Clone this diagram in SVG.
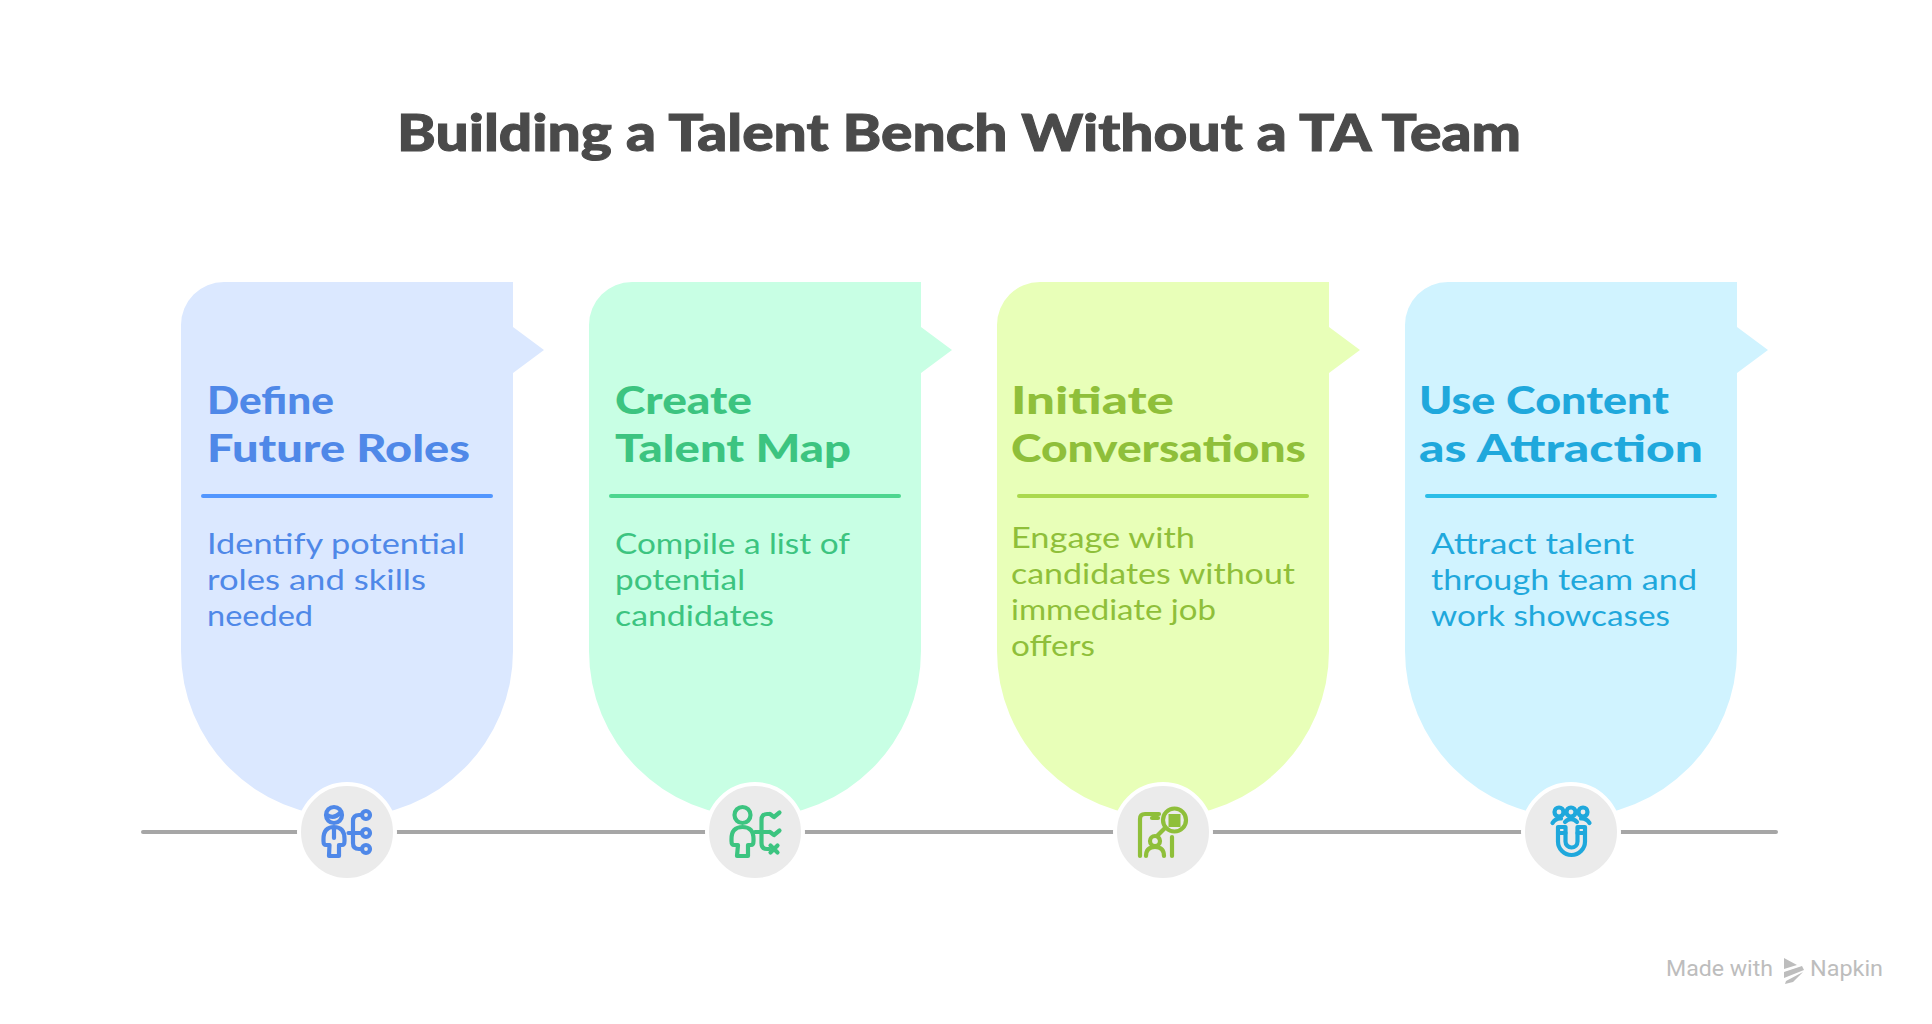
<svg xmlns="http://www.w3.org/2000/svg" width="1932" height="1024" viewBox="0 0 1932 1024">
<style>
text{font-family:"Lato","Liberation Sans",sans-serif}
.title{font-size:52px;font-weight:900;fill:#4a4a4a;stroke:#4a4a4a;stroke-width:1}
.head{font-size:38px;font-weight:900}
.body{font-size:29px;font-weight:400}
.div{stroke-width:4;stroke-linecap:round}
.ring{fill:#ebebeb;stroke:#fff;stroke-width:4}
.ic{fill:none;stroke-width:4.2;stroke-linecap:round;stroke-linejoin:round}
.mark{font-size:22px;fill:#bdbdbd;font-family:Roboto,"Liberation Sans",sans-serif}
.blue{fill:#4f88e8}.green{fill:#3cc480}.lime{fill:#8fbf3a}.cyan{fill:#1fa8dc}
</style>
<defs>
<path id="card" d="M43 0H332V45L363 68L332 91V369A166 166 0 0 1 0 369V43A43 43 0 0 1 43 0Z"/>
</defs>
<rect width="1932" height="1024" fill="#fff"/>
<text id="title" class="title" x="397" y="151" textLength="1124" lengthAdjust="spacingAndGlyphs">Building a Talent Bench Without a TA Team</text>
<g id="connectors">
<path d="M143 832H1776" stroke="#a6a6a6" stroke-width="4" stroke-linecap="round" fill="none"/>
</g>
<g id="node-1">
<use href="#card" x="181" y="282" fill="#dbe8ff"/>
<text class="head blue" x="207" y="414" textLength="127" lengthAdjust="spacingAndGlyphs">Define</text>
<text class="head blue" x="207" y="462" textLength="263" lengthAdjust="spacingAndGlyphs">Future Roles</text>
<path class="div" d="M203 496H491" stroke="#5296ff"/>
<text class="body blue" x="207" y="554" textLength="258" lengthAdjust="spacingAndGlyphs">Identify potential</text>
<text class="body blue" x="207" y="590" textLength="219" lengthAdjust="spacingAndGlyphs">roles and skills</text>
<text class="body blue" x="207" y="626" textLength="106" lengthAdjust="spacingAndGlyphs">needed</text>
<g transform="translate(347 832)">
<circle class="ring" r="48"/>
<g class="ic" stroke="#4f88e8">
<circle cx="-13" cy="-17" r="8"/>
<path d="M-20 -17Q-13 -12 -6 -20"/>
<path d="M-17.500 13H-21Q-23.500 13-23.500 9V7Q-23.500-5-13-5Q-2.500-5-2.500 7V9Q-2.500 13-5 13H-8V24H-18Z"/>
<path d="M-13 -4V6"/>
<path d="M1.500 1H15M15 -17H12Q6 -17 6 -11V11Q6 17 12 17H15"/>
<circle cx="19" cy="-17" r="4"/><circle cx="19" cy="1" r="4"/><circle cx="19" cy="17" r="4"/>
</g>
</g>
</g>
<g id="node-2">
<use href="#card" x="589" y="282" fill="#c8ffe4"/>
<text class="head green" x="615" y="414" textLength="137" lengthAdjust="spacingAndGlyphs">Create</text>
<text class="head green" x="615" y="462" textLength="236" lengthAdjust="spacingAndGlyphs">Talent Map</text>
<path class="div" d="M611 496H899" stroke="#4dd68f"/>
<text class="body green" x="615" y="554" textLength="235" lengthAdjust="spacingAndGlyphs">Compile a list of</text>
<text class="body green" x="615" y="590" textLength="130" lengthAdjust="spacingAndGlyphs">potential</text>
<text class="body green" x="615" y="626" textLength="159" lengthAdjust="spacingAndGlyphs">candidates</text>
<g transform="translate(755 832)">
<circle class="ring" r="48"/>
<g class="ic" stroke="#3cc480">
<circle cx="-12.500" cy="-17" r="8"/>
<path d="M-17 13H-21Q-23.500 13-23.500 9V7Q-23.500-5-12.500-5Q-1.500-5-1.500 7V9Q-1.500 13-4 13H-7V24H-18Z"/>
<path d="M0 0H14M14 -18H12Q6.500 -18 6.500 -12V11Q6.500 17 12 17H14"/>
<path d="M15 -18L19 -15L24.500 -19.500M15 0L19 3L24.500 -1.500M15.500 13.500L22.500 20.500M22.500 13.500L15.500 20.500"/>
</g>
</g>
</g>
<g id="node-3">
<use href="#card" x="997" y="282" fill="#e8ffb8"/>
<text class="head lime" x="1011" y="414" textLength="163" lengthAdjust="spacingAndGlyphs">Initiate</text>
<text class="head lime" x="1011" y="462" textLength="295" lengthAdjust="spacingAndGlyphs">Conversations</text>
<path class="div" d="M1019 496H1307" stroke="#aad94d"/>
<text class="body lime" x="1011" y="548" textLength="184" lengthAdjust="spacingAndGlyphs">Engage with</text>
<text class="body lime" x="1011" y="584" textLength="284" lengthAdjust="spacingAndGlyphs">candidates without</text>
<text class="body lime" x="1011" y="620" textLength="205" lengthAdjust="spacingAndGlyphs">immediate job</text>
<text class="body lime" x="1011" y="656" textLength="84" lengthAdjust="spacingAndGlyphs">offers</text>
<g transform="translate(1163 832)">
<circle class="ring" r="48"/>
<g class="ic" stroke="#8fbf3a">
<path d="M-23 24V-13Q-23 -18-18 -18H-4M9 5V24"/>
<path d="M-11 -14H-5"/>
<path d="M2 -4L-5 3"/>
<circle cx="11.500" cy="-12" r="11.500"/>
<circle cx="-8" cy="9" r="5"/>
<path d="M-17 24Q-17 15-8 15Q1 15 1 24"/>
</g>
<rect x="5.500" y="-18" width="12" height="13" fill="#8fbf3a"/>
</g>
</g>
<g id="node-4">
<use href="#card" x="1405" y="282" fill="#d0f3ff"/>
<text class="head cyan" x="1419" y="414" textLength="250" lengthAdjust="spacingAndGlyphs">Use Content</text>
<text class="head cyan" x="1419" y="462" textLength="284" lengthAdjust="spacingAndGlyphs">as Attraction</text>
<path class="div" d="M1427 496H1715" stroke="#2bbde8"/>
<text class="body cyan" x="1431" y="554" textLength="203" lengthAdjust="spacingAndGlyphs">Attract talent</text>
<text class="body cyan" x="1431" y="590" textLength="266" lengthAdjust="spacingAndGlyphs">through team and</text>
<text class="body cyan" x="1431" y="626" textLength="239" lengthAdjust="spacingAndGlyphs">work showcases</text>
<g transform="translate(1571 832)">
<circle class="ring" r="48"/>
<g class="ic" stroke="#1fa8dc">
<circle cx="-12" cy="-20" r="4.500"/><circle cx="0" cy="-20" r="4.500"/><circle cx="12" cy="-20" r="4.500"/>
<path d="M-18.500 -9Q-15 -14-10 -13.500M18.500 -9Q15 -14 10 -13.500M-6 -10Q0 -16 6 -10"/>
<path d="M-13 -5V9.500A13.500 13.500 0 0 0 14 9.500V-5H6.500V9.500A6 6 0 0 1-5.500 9.500V-5Z"/>
<path d="M-13 1H-5.500M6.500 1H14"/>
</g>
</g>
</g>
<g id="watermark">
<text class="mark" x="1666" y="976" textLength="107" lengthAdjust="spacingAndGlyphs">Made with</text>
<path d="M1784 958L1797 965L1784 969ZM1784 972L1802 966L1804 970L1784 978ZM1786 981L1803 972L1793 982L1785 984Z" fill="#bdbdbd"/>
<text class="mark" x="1810" y="976" textLength="73" lengthAdjust="spacingAndGlyphs">Napkin</text>
</g>
</svg>
